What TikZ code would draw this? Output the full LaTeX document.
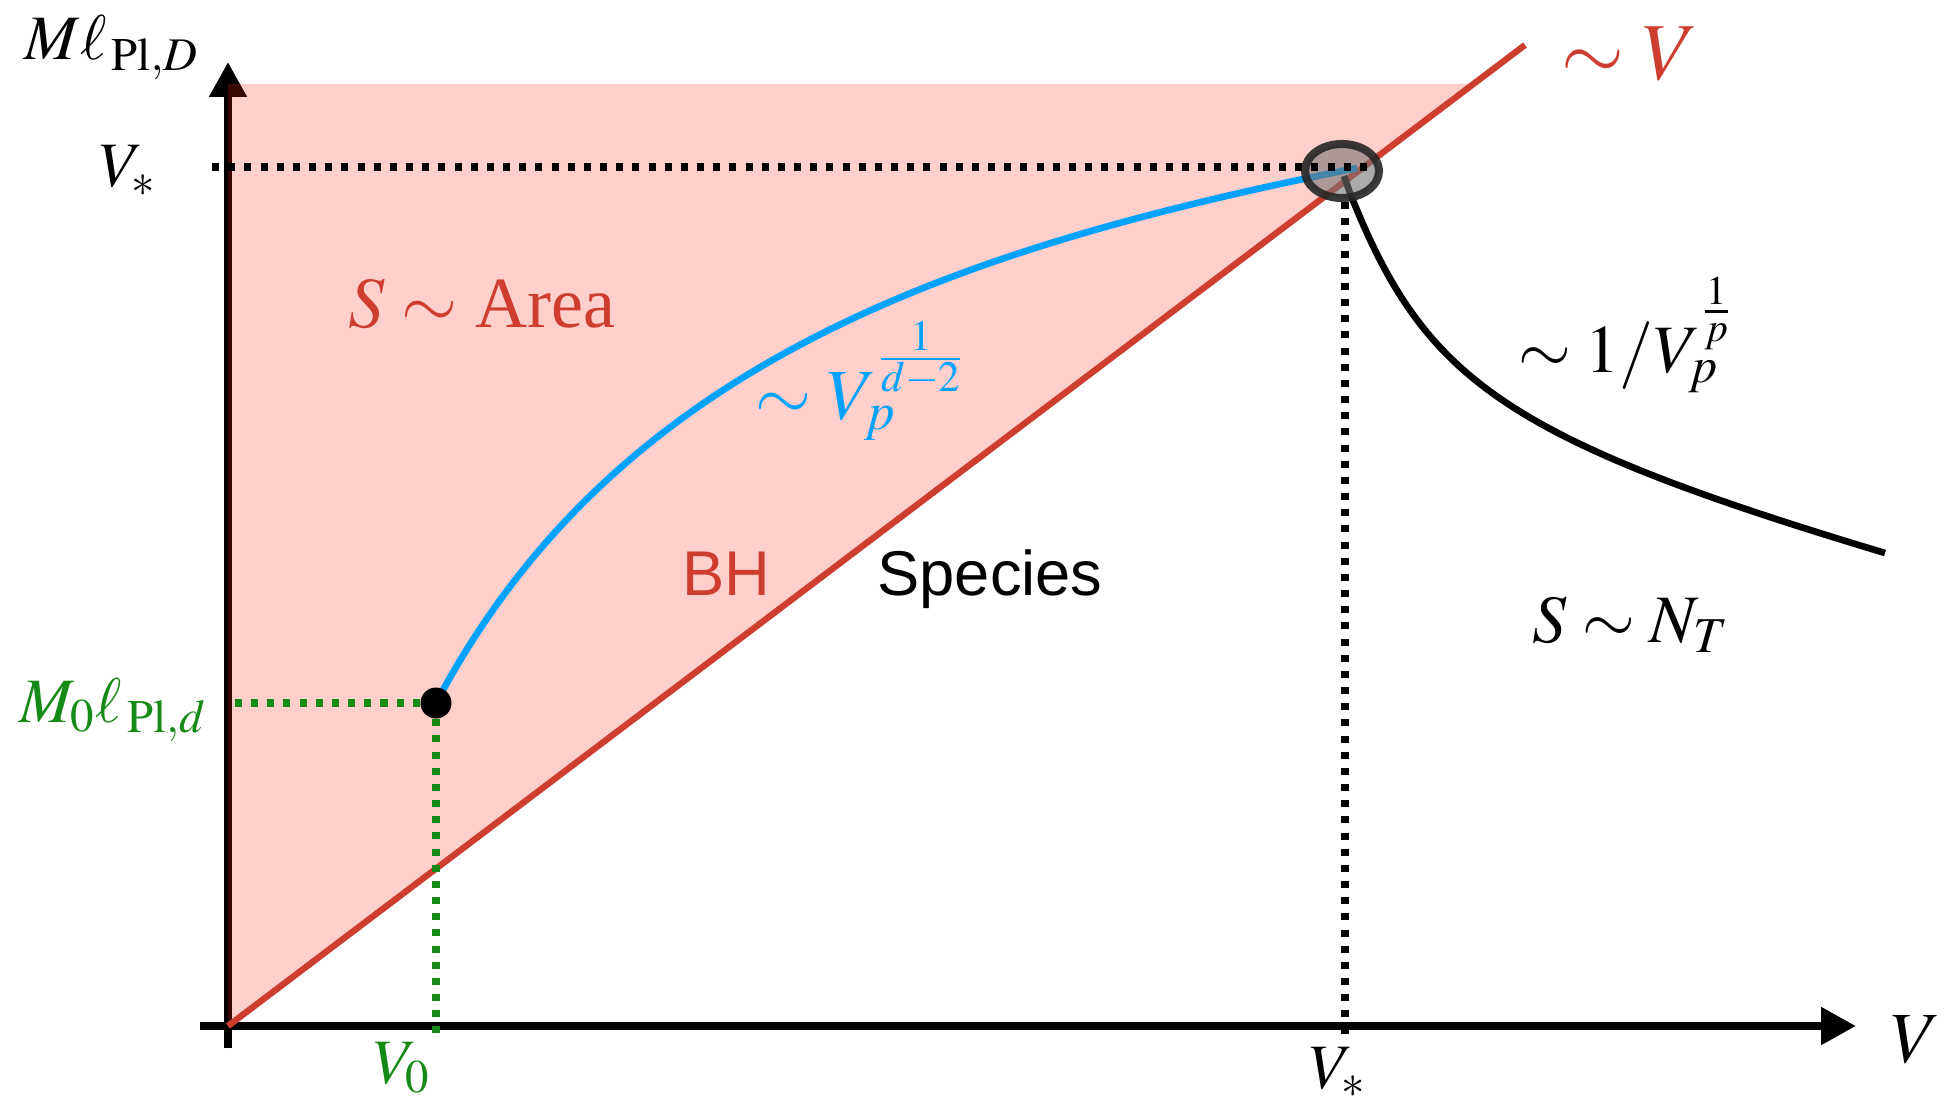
\documentclass[tikz,border=0pt]{standalone}
\usepackage{mathptmx}
\usepackage{fontspec}
\setmainfont{Liberation Serif}
\newfontfamily\helv{Liberation Sans}
\usetikzlibrary{arrows.meta, shapes.geometric}

\definecolor{bhred}{RGB}{205,62,48}
\definecolor{areapink}{RGB}{255,40,20}
\definecolor{specblue}{RGB}{0,162,255}
\definecolor{lowgreen}{RGB}{22,138,22}

\begin{document}
\begin{tikzpicture}[
    >={Triangle[length=3.5mm, width=3.6mm]},
    axis/.style={line width=2.3pt},
    guide/.style={line width=2pt, dash pattern=on 2pt off 2.6pt},
    bhline/.style={bhred, line width=1.8pt},
    curve/.style={line width=1.9pt},
    lbl/.style={inner sep=0pt, anchor=base, font=\fontsize{18}{20}\selectfont},
    midlbl/.style={lbl, font=\fontsize{19.3}{22}\selectfont},
    biglbl/.style={lbl, font=\fontsize{20.5}{23}\selectfont},
    sanslbl/.style={lbl, font=\fontsize{18}{20}\selectfont\helv}
  ]
    \useasboundingbox (-2.28,-0.73) rectangle (17.29,10.26);

    \coordinate (O)  at (0,0);
    \coordinate (Vs) at (11.17,8.59);
    \coordinate (P0) at (2.08,3.23);

    % axes
    \draw[axis,->] (-0.28,0) -- (16.28,0);
    \draw[axis,->] (0,-0.22) -- (0,9.64);

    % black hole region
    \fill[areapink, opacity=0.22] (O) -- (0,9.42) -- (12.47,9.42) -- cycle;
    \draw[bhline] (O) -- (12.97,9.81);

    % green guides to the starting point
    \draw[guide, lowgreen] (P0) -- (P0 -| O);
    \draw[guide, lowgreen] (P0) -- ([yshift=-1.2mm]P0 |- O);

    % species curves
    \draw[curve, specblue] (P0) .. controls (3.86,6.59) and (7.17,7.76) .. (11.29,8.58);
    \draw[curve] (11.16,8.50) -- (11.22,8.33)
      .. controls (11.96,6.47) and (12.74,5.88) .. (16.57,4.73);

    % crossing point
    \node[ellipse, draw=black!85, draw opacity=0.9, line width=2.3pt,
          fill=black!55, fill opacity=0.6, inner sep=0pt,
          minimum width=7.4mm, minimum height=5.4mm] (knee) at (11.14,8.55) {};

    \draw[guide] ([xshift=-1.6mm]Vs -| O) -- ([xshift=2.7mm]Vs);
    \draw[guide] (knee.south -| Vs) -- ([yshift=-1mm]Vs |- O);

    \node[circle, fill, inner sep=0pt, minimum size=3.1mm] (m0) at (P0) {};

    % labels
    \node[lbl] (ylab) at (-1.16,9.66) {$M\ell_{\,\mathrm{Pl},D}$};
    \node[lbl] (vstar) at (-1.00,8.39) {$V_*$};
    \node[lbl, lowgreen] (m0lab) at (-1.15,3.04) {$M_0\ell_{\,\mathrm{Pl},d}$};
    \node[lbl, lowgreen] (v0lab) at (1.74,-0.57) {$V_0$};
    \node[lbl] (vstarx) at (11.10,-0.62) {$V_*$};
    \node[biglbl] (xlab) at (16.88,-0.36) {$V$};

    \node[lbl, bhred, font=\fontsize{23}{26}\selectfont] (linlab) at (14.02,9.46) {$\sim V$};
    \node[biglbl, bhred] (arealab) at (2.54,6.98) {$S\sim$ Area};
    \node[biglbl, specblue] (bluelab) at (6.33,6.06) {$\sim V_p^{\frac{1}{d-2}}$};
    \node[midlbl] (blacklab) at (13.98,6.53) {$\sim 1/V_p^{\frac{1}{p}}$};
    \node[midlbl] (ntlab) at (14.03,3.84) {$S\sim N_T$};
    \node[sanslbl, bhred] (bhlab) at (4.98,4.31) {BH};
    \node[sanslbl] (splab) at (7.62,4.31) {Species};
  \end{tikzpicture}
\end{document}
